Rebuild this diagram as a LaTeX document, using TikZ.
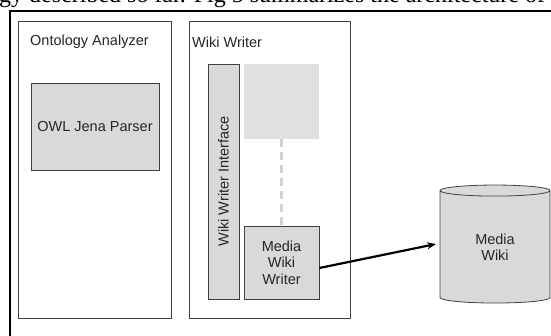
\documentclass[tikz,border=0pt]{standalone}
\usepackage{fontspec}
\setmainfont{Liberation Sans}
\newfontfamily\serifpage{Liberation Serif}
\usetikzlibrary{arrows.meta,shapes.geometric}
\definecolor{boxgray}{HTML}{D9D9D9}
\definecolor{ghost}{HTML}{E0E0E0}
\definecolor{dashgray}{HTML}{D2D2D2}
\definecolor{edgegray}{HTML}{404040}
\tikzset{
  container/.style={draw=edgegray, line width=0.8pt, fill=white},
  compbox/.style={draw=edgegray, line width=0.8pt, fill=boxgray},
  lbl/.style={font=\fontsize{14.5}{16.5}\selectfont, text=black!85, inner sep=0pt, align=center},
  flow/.style={line width=2.2pt, -{Stealth[length=9pt,width=7pt]}},
}
\begin{document}
\begin{tikzpicture}[x=1pt,y=-1pt]
\useasboundingbox (0,0) rectangle (551,336);
\clip (0,0) rectangle (551,336);
% page text line (cropped)
\node[anchor=base west, inner sep=0pt, font=\serifpage\fontsize{24}{28}\selectfont] (pagetext) at (-1,2.5) {gy described so far. Fig 5 summarizes the architecture of};
% outer frame
\draw[line width=2.2pt] (10,340) -- (10,11) -- (555,11);
% containers
\draw[container] (18,21) rectangle (171,318);
\node[lbl, anchor=west] (oatitle) at (30,42) {Ontology Analyzer};
\draw[container] (189,21) rectangle (350,318);
\node[lbl, anchor=west] (wwtitle) at (192,42) {Wiki Writer};
% components
\node[compbox, minimum width=128pt, minimum height=87pt, lbl] (owl) at (95,126.5) {OWL Jena Parser};
\node[compbox, minimum width=31pt, minimum height=235pt] (wwi) at (223.5,181.5) {};
\node[lbl, rotate=90] (wwilbl) at (wwi.center) {Wiki Writer Interface};
\node[fill=ghost, minimum width=75pt, minimum height=75pt, inner sep=0pt] (ghostbox) at (281.5,101.5) {};
\node[compbox, minimum width=75pt, minimum height=73pt, lbl] (mww) at (281.5,262.5) {Media\\Wiki\\Writer};
\draw[dashgray, line width=2.5pt, dash pattern=on 8pt off 5pt] (ghostbox.south) -- (mww.north);
% database
\node[cylinder, shape border rotate=90, aspect=0.28, draw=edgegray, line width=0.8pt, fill=boxgray, minimum width=110pt, minimum height=118pt, lbl] (db) at (495,247) {Media\\Wiki};
\coordinate (arrowend) at (436,244);
\draw[flow] (mww.east |- 0,268) -- (arrowend);
\end{tikzpicture}
\end{document}
